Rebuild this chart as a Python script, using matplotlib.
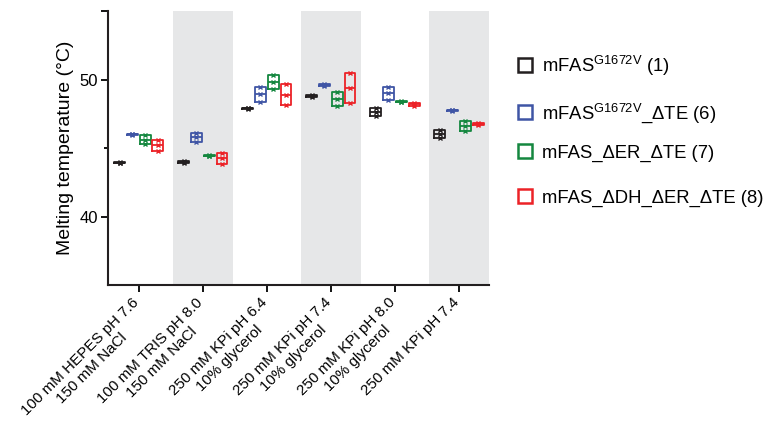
import matplotlib
matplotlib.use("Agg")
import matplotlib.pyplot as plt
from matplotlib.lines import Line2D
from matplotlib.transforms import ScaledTranslation
import numpy as np

plt.rcParams['font.family'] = ['Liberation Sans', 'DejaVu Sans']
plt.rcParams['mathtext.default'] = 'regular'

conditions = [
    "100 mM HEPES pH 7.6\n150 mM NaCl",
    "100 mM TRIS pH 8.0\n150 mM NaCl",
    "250 mM KPi pH 6.4\n10% glycerol",
    "250 mM KPi pH 7.4\n10% glycerol",
    "250 mM KPi pH 8.0\n10% glycerol",
    "250 mM KPi pH 7.4",
]
series_names = [
    "mFAS$^{G1672V}$ (1)",
    "mFAS$^{G1672V}$_ΔTE (6)",
    "mFAS_ΔER_ΔTE (7)",
    "mFAS_ΔDH_ΔER_ΔTE (8)",
]
series_colors = ["#231f20", "#3f55a5", "#14873f", "#ec2227"]

# replicate melting temperatures (°C), per construct, per condition
mfas_1 = [[43.90, 43.95, 44.00], [43.95, 44.00, 44.05], [47.85, 47.90, 47.95],
          [48.75, 48.80, 48.85], [47.35, 47.65, 47.90], [45.75, 46.05, 46.30]]
mfas_6 = [[45.95, 46.00, 46.05], [45.45, 45.80, 46.10], [48.40, 48.95, 49.45],
          [49.55, 49.60, 49.65], [48.50, 49.00, 49.45], [47.70, 47.75, 47.80]]
mfas_7 = [[45.30, 45.60, 45.95], [44.40, 44.45, 44.50], [49.30, 49.80, 50.35],
          [48.05, 48.60, 49.10], [48.35, 48.40, 48.45], [46.25, 46.60, 46.95]]
mfas_8 = [[44.80, 45.20, 45.60], [43.85, 44.25, 44.65], [48.15, 48.90, 49.70],
          [48.30, 49.40, 50.50], [48.10, 48.20, 48.30], [46.65, 46.75, 46.85]]
all_series = [mfas_1, mfas_6, mfas_7, mfas_8]

fig = plt.figure(figsize=(7.68, 4.25), dpi=100)
ax = fig.add_axes([0.1406, 0.329, 0.4961, 0.645])

n = len(conditions)
x = np.arange(n)
# shaded bands behind alternate conditions
for i in range(1, n, 2):
    ax.axvspan(i - 0.47, i + 0.47, color="#e6e7e8", lw=0, zorder=0)

offsets = [-0.30, -0.10, 0.10, 0.30]
for s, (vals, col) in enumerate(zip(all_series, series_colors)):
    stats = []
    pos = []
    for i, reps in enumerate(vals):
        r = np.array(reps)
        stats.append(dict(med=np.median(r), q1=r.min(), q3=r.max(),
                          whislo=r.min(), whishi=r.max(), fliers=[]))
        pos.append(x[i] + offsets[s])
    ax.bxp(stats, positions=pos, widths=0.17, showcaps=False,
           patch_artist=False, manage_ticks=False,
           boxprops=dict(color=col, lw=1.3),
           medianprops=dict(color=col, lw=1.3),
           whiskerprops=dict(color=col, lw=1.3))
    for i, reps in enumerate(vals):
        ax.plot([x[i] + offsets[s]] * len(reps), reps, ls='none', marker='x',
                ms=3.5, mew=1.0, color=col, zorder=3)

ax.set_xlim(-0.48, 5.47)
ax.set_ylim(35, 55)
ax.set_yticks([40, 50, 55])
ax.set_yticklabels(["40", "50", ""])
ax.set_yticks([45], minor=True)
ax.tick_params(axis='y', which='major', length=5, width=1.3, labelsize=12, pad=2)
ax.tick_params(axis='y', which='minor', length=3, width=1.3)
ax.set_xticks(x)
ax.set_xticklabels(conditions, rotation=45, ha='right', va='top',
                   rotation_mode='anchor', multialignment='center', fontsize=10.9)
ax.tick_params(axis='x', length=5, width=1.3, pad=3)
shift = ScaledTranslation(-7 / 100, 1 / 100, fig.dpi_scale_trans)
for lbl in ax.get_xticklabels():
    lbl.set_transform(lbl.get_transform() + shift)
ax.set_ylabel("Melting temperature (°C)", fontsize=14, labelpad=4)
for sp in ['top', 'right']:
    ax.spines[sp].set_visible(False)
for sp in ['left', 'bottom']:
    ax.spines[sp].set_linewidth(1.5)
    ax.spines[sp].set_color("#231f20")

# one legend entry per row, rows evenly spaced as in the reference
row_y = [0.846, 0.734, 0.639, 0.533]
for name, col, yy in zip(series_names, series_colors, row_y):
    h = Line2D([], [], ls='none', marker='s', ms=10, mfc='none', mec=col, mew=1.8)
    leg = fig.legend([h], [name], loc='center left', bbox_to_anchor=(0.671, yy),
                     frameon=False, fontsize=13.3, handletextpad=0.45,
                     handlelength=1.0, borderaxespad=0, borderpad=0)

fig.savefig("out.png", dpi=100)
